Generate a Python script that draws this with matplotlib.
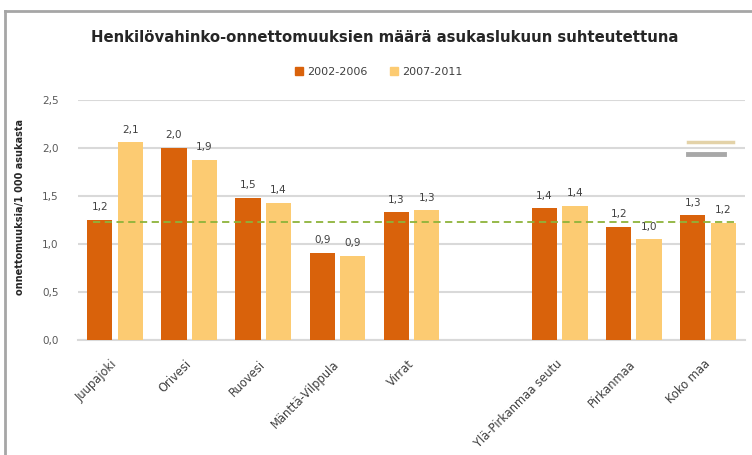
import matplotlib
matplotlib.use("Agg")
import matplotlib.pyplot as plt
import numpy as np
from matplotlib.patches import Patch

categories = ["Juupajoki", "Orivesi", "Ruovesi", "Mänttä-Vilppula", "Virrat", "",
              "Ylä-Pirkanmaa seutu", "Pirkanmaa", "Koko maa"]
series_names = ["2002-2006", "2007-2011"]
values_0206 = [1.25, 2.00, 1.48, 0.91, 1.33, None, 1.37, 1.18, 1.30]
values_0711 = [2.06, 1.88, 1.43, 0.88, 1.35, None, 1.40, 1.05, 1.22]
labels_0206 = ["1,2", "2,0", "1,5", "0,9", "1,3", "", "1,4", "1,2", "1,3"]
labels_0711 = ["2,1", "1,9", "1,4", "0,9", "1,3", "", "1,4", "1,0", "1,2"]
reference_level = 1.23
yticks = [0.0, 0.5, 1.0, 1.5, 2.0, 2.5]
ytick_labels = ["0,0", "0,5", "1,0", "1,5", "2,0", "2,5"]

c_orange = "#D9620B"
c_yellow = "#FCCB72"

fig = plt.figure(figsize=(7.52, 4.55), dpi=100)
ax = fig.add_axes([78/752, 1-340/455, (745-78)/752, (340-100)/455])

x = np.arange(len(categories))
w = 0.34
off = 0.205
for i in range(len(categories)):
    if values_0206[i] is None:
        continue
    ax.bar(x[i]-off, values_0206[i], w, color=c_orange, zorder=3)
    ax.bar(x[i]+off, values_0711[i], w, color=c_yellow, zorder=3)
    ax.text(x[i]-off, values_0206[i]+0.08, labels_0206[i], ha="center", va="bottom",
            fontsize=7.5, color="#404040", zorder=4)
    ax.text(x[i]+off, values_0711[i]+0.08, labels_0711[i], ha="center", va="bottom",
            fontsize=7.5, color="#404040", zorder=4)

ax.plot([-0.30, 8.37], [reference_level, reference_level], ls=(0, (4, 2.5)),
        color="#8DB33A", lw=1.3, zorder=5, clip_on=False)

ax.set_xlim(-0.5, 8.5)
ax.set_ylim(0, 2.5)
ax.set_yticks(yticks)
ax.set_yticklabels(ytick_labels, fontsize=7.5, color="#595959")
ax.set_xticks(x)
ax.set_xticklabels(categories, rotation=45, ha="right", va="center", rotation_mode="anchor",
                   fontsize=8.3, color="#404040")
ax.tick_params(axis="both", length=0)
ax.tick_params(axis="y", pad=14)
ax.tick_params(axis="x", pad=16)
ax.grid(axis="y", color="#D9D9D9", lw=1.5, zorder=0)
for s in ["top", "right", "left"]:
    ax.spines[s].set_visible(False)
ax.spines["bottom"].set_color("#D9D9D9")
ax.spines["bottom"].set_linewidth(1.5)
ax.set_ylabel("onnettomuuksia/1 000 asukasta", fontsize=7, fontweight="bold",
              color="#262626")
ax.yaxis.set_label_coords((25-78)/667, (340-207)/240)

fig.text(385/752, 1-38/455, "Henkilövahinko-onnettomuuksien määrä asukaslukuun suhteutettuna",
         ha="center", va="center", fontsize=10.7, fontweight="bold", color="#262626")

handles = [Patch(color=c_orange), Patch(color=c_yellow)]
fig.legend(handles, series_names, loc="center", bbox_to_anchor=(379/752, 1-72/455),
           ncol=2, frameon=False, fontsize=8, handlelength=0.7, handleheight=0.7,
           columnspacing=2.0, handletextpad=0.4, labelcolor="#404040")

# outer border
fig.add_artist(plt.Line2D([5/752, 5/752], [0, 1-11/455], color="#A6A6A6", lw=2,
                          transform=fig.transFigure))
fig.add_artist(plt.Line2D([5/752, 1], [1-11/455, 1-11/455], color="#A6A6A6", lw=2,
                          transform=fig.transFigure))
# right-edge fragments
fig.add_artist(plt.Line2D([688/752, 733/752], [1-142/455, 1-142/455], color="#E3D2A8", lw=2.5,
                          transform=fig.transFigure))
fig.add_artist(plt.Line2D([688/752, 724/752], [1-154/455, 1-154/455], color="#A8A8A8", lw=3.5,
                          transform=fig.transFigure))

fig.savefig("out.png", dpi=100, facecolor="white")
